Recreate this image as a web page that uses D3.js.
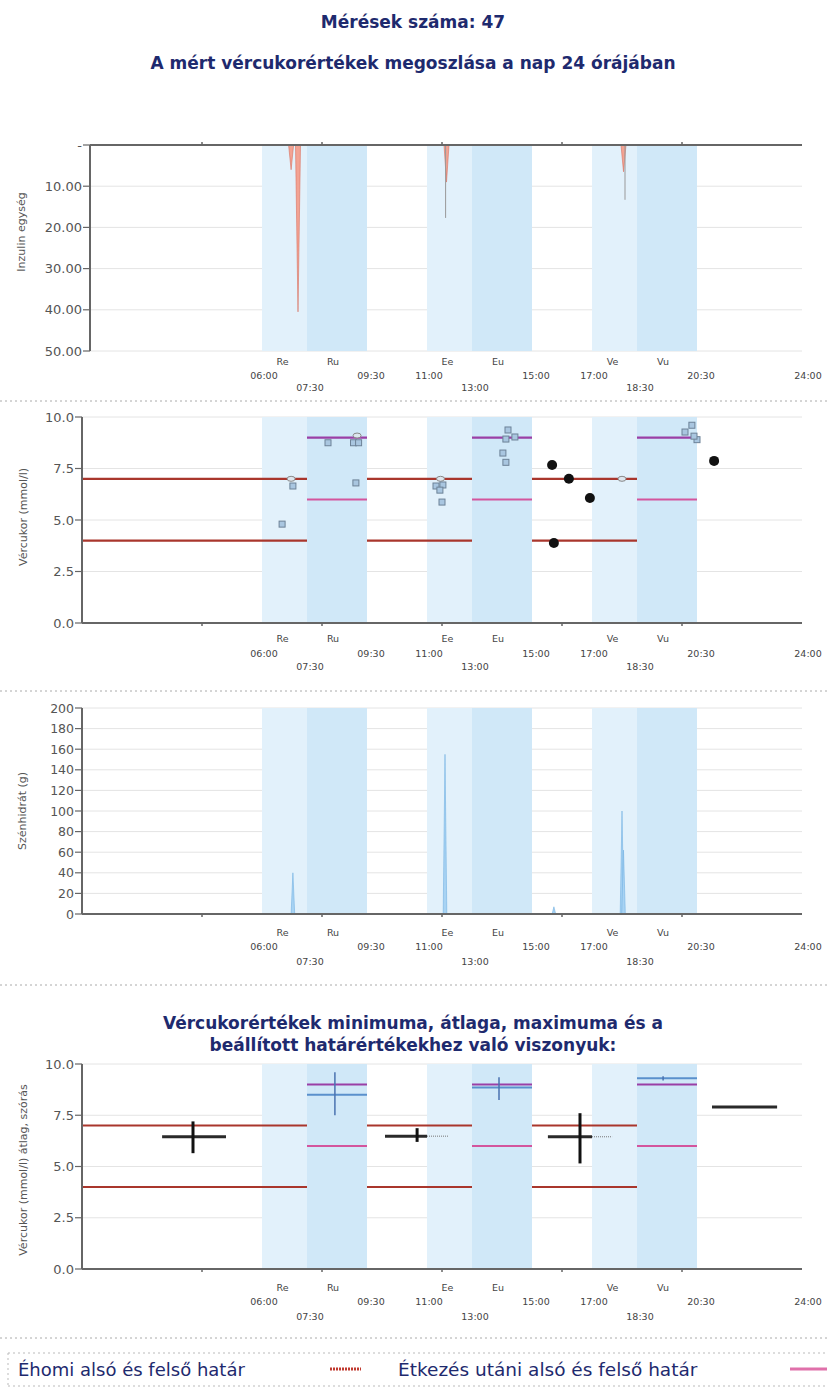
<!DOCTYPE html>
<html><head><meta charset="utf-8">
<script src="https://cdn.jsdelivr.net/npm/d3@7"></script>
<style>body{margin:0;background:#fff} svg{display:block}</style>
</head><body>
<svg id="c" width="827" height="1398"></svg>
<script>
// ---------- DATA ----------
const measurementCount = 47;
const bandStarts = [6, 11.5, 17];
const bandMids   = [7.5, 13, 18.5];
const bandEnds   = [9.5, 15, 20.5];
const preMealLabels  = ["Re", "Ee", "Ve"];
const postMealLabels = ["Ru", "Eu", "Vu"];
const startLabels = ["06:00", "11:00", "17:00"];
const midLabels   = ["07:30", "13:00", "18:30"];
const endLabels   = ["09:30", "15:00", "20:30"];
const dayEndLabel = "24:00";
const hourTicks = [4, 8, 12, 16, 20];

const insulinTicks = [0, 10, 20, 30, 40, 50];
const glucoseTicks = [0, 2.5, 5, 7.5, 10];
const carbTicks = [0, 20, 40, 60, 80, 100, 120, 140, 160, 180, 200];

// insulin boluses (hour, units)
const bolusTimes = [6.97, 7.2, 12.15, 18.05];
const bolusUnits = [6, 40.5, 9, 6.5];
// thin insulin lines (hour, units)
const thinInsTimes = [12.12, 18.1];
const thinInsUnits = [17.7, 13.3];

// limits
const fastingLimits = [4.0, 7.0];
const fastingSegStart = [0, 9.5, 15];
const fastingSegEnd   = [7.5, 13, 18.5];
const postLowLimit = 6.0;
const postHighLimit = 9.0;

// glucose measurements: squares
const sqTimes  = [6.67, 7.03, 8.2, 9.05, 9.22, 9.13, 11.8, 12.03, 11.93, 12.0, 14.2, 14.13, 14.43, 14.03, 14.13, 20.33, 20.1, 20.5, 20.4];
const sqValues = [4.8, 6.65, 8.75, 8.75, 8.75, 6.8, 6.65, 6.7, 6.45, 5.87, 9.37, 8.93, 9.03, 8.25, 7.8, 9.6, 9.27, 8.9, 9.07];
// small oval markers
const ovTimes  = [6.97, 9.17, 11.95, 18.0];
const ovValues = [7.0, 9.1, 7.0, 7.0];
// black dots
const dotTimes  = [15.67, 16.23, 16.93, 15.73, 21.07];
const dotValues = [7.67, 7.0, 6.07, 3.88, 7.87];

// carbohydrates (hour, grams)
const carbTimes = [7.03, 12.1, 15.73, 18.0, 18.05];
const carbGrams = [40, 155, 7, 100, 62];

// statistics panel: black (fasting) crosses
const fStatFrom = [2.67, 10.1, 15.53, 21.0];
const fStatTo   = [4.8, 11.5, 17.0, 23.17];
const fStatAt   = [3.7, 11.17, 16.6, 22.1];
const fStatAvg  = [6.45, 6.48, 6.45, 7.9];
const fStatMin  = [5.65, 6.2, 5.15, 7.9];
const fStatMax  = [7.2, 6.87, 7.6, 7.9];
// thin continuation of averages
const thinAvgFrom = [11.5, 17.0];
const thinAvgTo   = [12.2, 17.67];
const thinAvgVal  = [6.48, 6.45];
// blue (post-meal) crosses
const pStatFrom = [7.5, 13, 18.5];
const pStatTo   = [9.5, 15, 20.5];
const pStatAt   = [8.43, 13.9, 19.37];
const pStatAvg  = [8.5, 8.85, 9.3];
const pStatMin  = [7.5, 8.25, 9.2];
const pStatMax  = [9.6, 9.35, 9.4];

// ---------- DRAW ----------
const svg = d3.select("#c");
const FONT = "DejaVu Sans, Verdana, sans-serif";
const NAVY = "#1e2a6e";
const x = d3.scaleLinear().domain([0, 24]).range([82, 802]);

function title(y, t) {
  svg.append("text").attr("x", 413).attr("y", y).attr("text-anchor", "middle")
    .attr("font-family", FONT).attr("font-weight", "bold").attr("font-size", 17).attr("fill", NAVY).text(t);
}
title(28, "Mérések száma: " + measurementCount);
title(69, "A mért vércukorértékek megoszlása a nap 24 órájában");

function dotted(y) {
  svg.append("line").attr("x1", 0).attr("x2", 827).attr("y1", y).attr("y2", y)
    .attr("stroke", "#aaa").attr("stroke-width", 1).attr("stroke-dasharray", "2,3");
}

function panel(o) {
  const g = svg.append("g");
  const y = d3.scaleLinear().domain(o.domain).range(o.inverted ? [o.top, o.bottom] : [o.bottom, o.top]);
  g.selectAll(".grid").data(o.ticks).join("line")
    .attr("x1", o.axisX).attr("x2", 802).attr("y1", d => y(d)).attr("y2", d => y(d))
    .attr("stroke", "#e4e4e4").attr("stroke-width", 1);
  bandStarts.forEach((s, i) => {
    g.append("rect").attr("x", x(s)).attr("y", o.top).attr("width", x(bandMids[i]) - x(s))
      .attr("height", o.bottom - o.top).attr("fill", "#e2f1fb");
    g.append("rect").attr("x", x(bandMids[i])).attr("y", o.top).attr("width", x(bandEnds[i]) - x(bandMids[i]))
      .attr("height", o.bottom - o.top).attr("fill", "#d0e8f8");
  });
  g.selectAll(".yl").data(o.ticks).join("text")
    .attr("x", o.axisX - 8).attr("y", d => y(d) + 4.5).attr("text-anchor", "end")
    .attr("font-family", FONT).attr("font-size", o.tickSize).attr("fill", "#555")
    .text(o.fmt);
  g.selectAll(".yt").data(o.ticks).join("line")
    .attr("x1", o.axisX - 7).attr("x2", o.axisX).attr("y1", d => y(d)).attr("y2", d => y(d))
    .attr("stroke", "#666").attr("stroke-width", 1.2);
  g.append("text").attr("transform", `translate(${o.titleX},${o.titleY}) rotate(-90)`)
    .attr("text-anchor", "middle").attr("font-family", FONT).attr("font-size", 11).attr("fill", "#555")
    .text(o.title);
  const r = o.rows;
  const lab = (tx, ty, t) => g.append("text").attr("x", tx).attr("y", ty).attr("text-anchor", "middle")
    .attr("font-family", FONT).attr("font-size", 9.5).attr("fill", "#444").text(t);
  bandStarts.forEach((s, i) => {
    lab(x((s + bandMids[i]) / 2) - 2, o.bottom + r[0], preMealLabels[i]);
    lab(x((bandMids[i] + bandEnds[i]) / 2) - 4, o.bottom + r[0], postMealLabels[i]);
    lab(x(s) + 2, o.bottom + r[1], startLabels[i]);
    lab(x(bandEnds[i]) + 4, o.bottom + r[1], endLabels[i]);
    lab(x(bandMids[i]) + 3, o.bottom + r[2], midLabels[i]);
  });
  lab(x(24) + 6, o.bottom + r[1], dayEndLabel);
  return { g, y };
}

function axes(p, o) {
  const hy = o.inverted ? o.top : o.bottom;
  p.g.append("line").attr("x1", o.axisX).attr("x2", o.axisX).attr("y1", o.top).attr("y2", o.bottom)
    .attr("stroke", "#666").attr("stroke-width", 2);
  p.g.append("line").attr("x1", o.axisX).attr("x2", 802).attr("y1", hy).attr("y2", hy)
    .attr("stroke", "#666").attr("stroke-width", 2);
  p.g.selectAll(".ht").data(hourTicks).join("line")
    .attr("x1", d => x(d)).attr("x2", d => x(d))
    .attr("y1", hy).attr("y2", o.inverted ? hy - 3 : hy + 3)
    .attr("stroke", "#666").attr("stroke-width", 1.5);
}

function limitLines(p) {
  fastingSegStart.forEach((s, i) => {
    fastingLimits.forEach(l => {
      p.g.append("line").attr("x1", x(s)).attr("x2", x(fastingSegEnd[i]))
        .attr("y1", p.y(l)).attr("y2", p.y(l)).attr("stroke", "#a9362c").attr("stroke-width", 2.2);
    });
  });
  bandMids.forEach((m, i) => {
    p.g.append("line").attr("x1", x(m)).attr("x2", x(bandEnds[i]))
      .attr("y1", p.y(postHighLimit)).attr("y2", p.y(postHighLimit)).attr("stroke", "#9a3fa6").attr("stroke-width", 2.2);
    p.g.append("line").attr("x1", x(m)).attr("x2", x(bandEnds[i]))
      .attr("y1", p.y(postLowLimit)).attr("y2", p.y(postLowLimit)).attr("stroke", "#d3559d").attr("stroke-width", 2);
  });
}

// ---------- Panel 1: insulin ----------
const o1 = { top: 145, bottom: 351, axisX: 90, domain: [0, 50], inverted: true, ticks: insulinTicks,
  fmt: d => d === 0 ? "-" : d.toFixed(2), tickSize: 13, title: "Inzulin egység", titleX: 25, titleY: 232, rows: [14, 28, 40] };
const p1 = panel(o1);
bolusTimes.forEach((t, i) => {
  p1.g.append("path")
    .attr("d", `M${x(t) - 2.5},${p1.y(0)} L${x(t) + 2.5},${p1.y(0)} L${x(t)},${p1.y(bolusUnits[i])} Z`)
    .attr("fill", "#f3a393").attr("stroke", "#d8705f").attr("stroke-width", 0.6);
});
thinInsTimes.forEach((t, i) => {
  p1.g.append("line").attr("x1", x(t)).attr("x2", x(t)).attr("y1", p1.y(0)).attr("y2", p1.y(thinInsUnits[i]))
    .attr("stroke", "#999").attr("stroke-width", 1);
});
axes(p1, o1);
dotted(401);

// ---------- Panel 2: glucose ----------
const o2 = { top: 417, bottom: 623, axisX: 82, domain: [0, 10], inverted: false, ticks: glucoseTicks,
  fmt: d => d.toFixed(1), tickSize: 13, title: "Vércukor (mmol/l)", titleX: 27, titleY: 517, rows: [19, 34, 47] };
const p2 = panel(o2);
limitLines(p2);
axes(p2, o2);
ovTimes.forEach((t, i) => {
  p2.g.append("ellipse").attr("cx", x(t)).attr("cy", p2.y(ovValues[i])).attr("rx", 4).attr("ry", 2.5)
    .attr("fill", "#dde6ee").attr("stroke", "#888").attr("stroke-width", 1);
});
sqTimes.forEach((t, i) => {
  p2.g.append("rect").attr("x", x(t) - 3).attr("y", p2.y(sqValues[i]) - 3).attr("width", 6).attr("height", 6)
    .attr("fill", "#a9c6e0").attr("stroke", "#6d8297").attr("stroke-width", 1);
});
dotTimes.forEach((t, i) => {
  p2.g.append("circle").attr("cx", x(t)).attr("cy", p2.y(dotValues[i])).attr("r", 5).attr("fill", "#111");
});
dotted(691);

// ---------- Panel 3: carbohydrates ----------
const o3 = { top: 708, bottom: 914, axisX: 82, domain: [0, 200], inverted: false, ticks: carbTicks,
  fmt: d => d, tickSize: 12.5, title: "Szénhidrát (g)", titleX: 26, titleY: 811, rows: [22, 36, 51] };
const p3 = panel(o3);
carbTimes.forEach((t, i) => {
  p3.g.append("path")
    .attr("d", `M${x(t) - 1.8},${p3.y(0)} L${x(t) + 1.8},${p3.y(0)} L${x(t)},${p3.y(carbGrams[i])} Z`)
    .attr("fill", "#a8d3f3").attr("stroke", "#74b2e2").attr("stroke-width", 0.6);
});
axes(p3, o3);
dotted(985);

// ---------- Panel 4: statistics ----------
title(1029, "Vércukorértékek minimuma, átlaga, maximuma és a");
title(1051, "beállított határértékekhez való viszonyuk:");
const o4 = { top: 1064, bottom: 1269, axisX: 82, domain: [0, 10], inverted: false, ticks: glucoseTicks,
  fmt: d => d.toFixed(1), tickSize: 13, title: "Vércukor (mmol/l) átlag, szórás", titleX: 27, titleY: 1170, rows: [22, 36, 51] };
const p4 = panel(o4);
limitLines(p4);
axes(p4, o4);
fStatFrom.forEach((f, i) => {
  p4.g.append("line").attr("x1", x(f)).attr("x2", x(fStatTo[i])).attr("y1", p4.y(fStatAvg[i])).attr("y2", p4.y(fStatAvg[i]))
    .attr("stroke", "#2a2a2a").attr("stroke-width", 3);
  if (fStatMax[i] > fStatMin[i]) {
    p4.g.append("line").attr("x1", x(fStatAt[i])).attr("x2", x(fStatAt[i]))
      .attr("y1", p4.y(fStatMin[i])).attr("y2", p4.y(fStatMax[i])).attr("stroke", "#111").attr("stroke-width", 3);
  }
});
thinAvgFrom.forEach((f, i) => {
  p4.g.append("line").attr("x1", x(f)).attr("x2", x(thinAvgTo[i])).attr("y1", p4.y(thinAvgVal[i])).attr("y2", p4.y(thinAvgVal[i]))
    .attr("stroke", "#777").attr("stroke-width", 1).attr("stroke-dasharray", "1,1");
});
pStatFrom.forEach((f, i) => {
  p4.g.append("line").attr("x1", x(f)).attr("x2", x(pStatTo[i])).attr("y1", p4.y(pStatAvg[i])).attr("y2", p4.y(pStatAvg[i]))
    .attr("stroke", "#5a90cc").attr("stroke-width", 2);
  p4.g.append("line").attr("x1", x(pStatAt[i])).attr("x2", x(pStatAt[i]))
    .attr("y1", p4.y(pStatMin[i])).attr("y2", p4.y(pStatMax[i])).attr("stroke", "#4a72b0").attr("stroke-width", 1.5);
});
dotted(1338);

// ---------- Legend ----------
[1353, 1386].forEach(yy => svg.append("line").attr("x1", 8).attr("x2", 827).attr("y1", yy).attr("y2", yy)
  .attr("stroke", "#bbb").attr("stroke-dasharray", "2,3"));
svg.append("line").attr("x1", 8).attr("x2", 8).attr("y1", 1353).attr("y2", 1386)
  .attr("stroke", "#bbb").attr("stroke-dasharray", "2,3");
svg.append("text").attr("x", 18).attr("y", 1376).attr("font-family", FONT).attr("font-size", 18).attr("fill", NAVY)
  .text("Éhomi alsó és felső határ");
svg.append("line").attr("x1", 330).attr("x2", 361).attr("y1", 1369).attr("y2", 1369)
  .attr("stroke", "#c0392f").attr("stroke-width", 3).attr("stroke-dasharray", "2,1");
svg.append("text").attr("x", 398).attr("y", 1376).attr("font-family", FONT).attr("font-size", 18.5).attr("fill", NAVY)
  .text("Étkezés utáni alsó és felső határ");
svg.append("line").attr("x1", 790).attr("x2", 827).attr("y1", 1369).attr("y2", 1369)
  .attr("stroke", "#e070aa").attr("stroke-width", 3);
</script></body></html>
